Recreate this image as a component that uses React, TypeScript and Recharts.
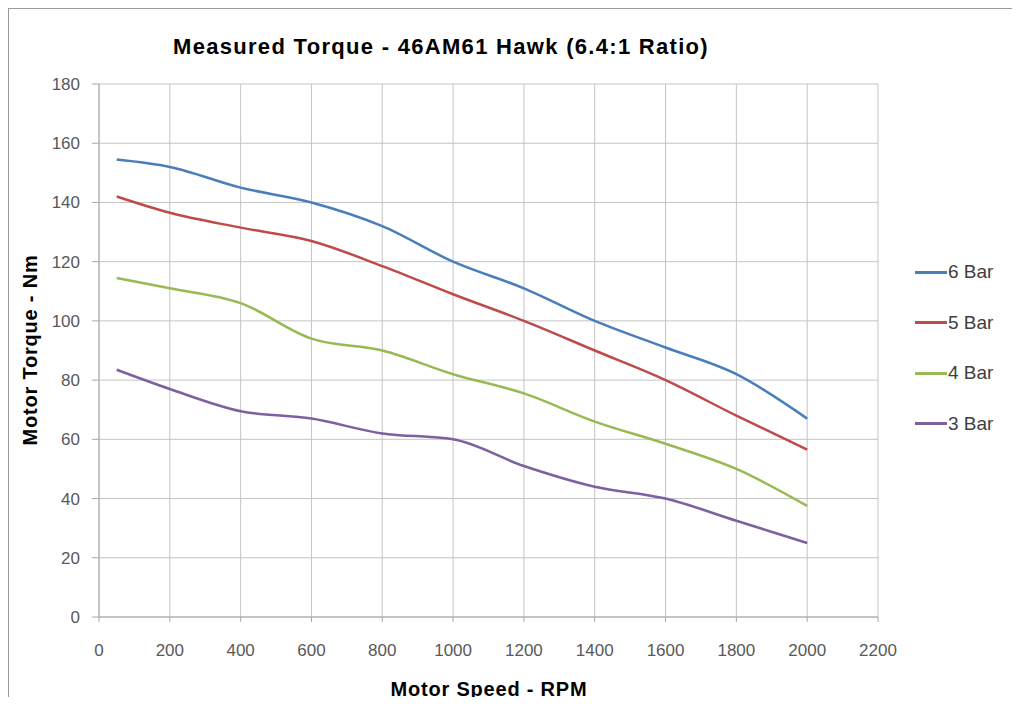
import React from 'react';
import { LineChart, Line, XAxis, YAxis, CartesianGrid } from 'recharts';

const speeds = [50, 200, 400, 600, 800, 1000, 1200, 1400, 1600, 1800, 2000];
const bar6 = [154.5, 152, 145, 140, 132, 120, 111, 100, 91, 82, 67];
const bar5 = [142, 136.5, 131.5, 127, 118.5, 109, 100, 90, 80, 68, 56.5];
const bar4 = [114.5, 111, 106, 94, 90, 82, 75.5, 66, 58.5, 50, 37.5];
const bar3 = [83.5, 77, 69.5, 67, 62, 60, 51, 44, 40, 32.5, 25];

const xTicks = [0, 200, 400, 600, 800, 1000, 1200, 1400, 1600, 1800, 2000, 2200];
const yTicks = [0, 20, 40, 60, 80, 100, 120, 140, 160, 180];

const series = [
  { key: 'bar6', name: '6 Bar', color: '#4A7EBB' },
  { key: 'bar5', name: '5 Bar', color: '#BE4B48' },
  { key: 'bar4', name: '4 Bar', color: '#98B954' },
  { key: 'bar3', name: '3 Bar', color: '#7D60A0' },
];

const data = speeds.map((s, i) => ({
  speed: s,
  bar6: bar6[i],
  bar5: bar5[i],
  bar4: bar4[i],
  bar3: bar3[i],
}));

const font = '"Liberation Sans", Arial, sans-serif';
const tickStyle = { fill: '#595959', fontSize: 17, fontFamily: font };

export default function App() {
  return (
    <div style={{ position: 'relative', width: 1020, height: 705, margin: -8, background: '#fff', fontFamily: font }}>
      <div style={{ position: 'absolute', left: 0, top: 0 }}>
        <LineChart width={1020} height={705} data={data} margin={{ top: 84, right: 142, bottom: 48, left: 39 }}>
          <CartesianGrid stroke="#c4c4c4" strokeWidth={1} horizontalValues={yTicks} verticalValues={xTicks} />
          <XAxis
            dataKey="speed"
            type="number"
            domain={[0, 2200]}
            ticks={xTicks}
            height={40}
            tickSize={5}
            tickMargin={22}
            stroke="#a8a8a8"
            tick={tickStyle}
            allowDataOverflow
          />
          <YAxis
            type="number"
            domain={[0, 180]}
            ticks={yTicks}
            width={60}
            tickSize={7}
            tickMargin={12}
            stroke="#a8a8a8"
            tick={tickStyle}
          />
          {series.map((s) => (
            <Line
              key={s.key}
              type="monotone"
              dataKey={s.key}
              name={s.name}
              stroke={s.color}
              strokeWidth={2.5}
              dot={false}
              isAnimationActive={false}
            />
          ))}
        </LineChart>
      </div>
      <div style={{ position: 'absolute', left: 8, top: 8, right: 0, height: 1, background: '#9a9a9a' }} />
      <div style={{ position: 'absolute', left: 8, top: 8, bottom: 0, width: 1, background: '#9a9a9a' }} />
      <div
        style={{
          position: 'absolute',
          left: 441,
          top: 47,
          transform: 'translate(-50%, -50%)',
          whiteSpace: 'nowrap',
          fontWeight: 'bold',
          fontSize: 22,
          letterSpacing: 1.3,
          color: '#000',
        }}
      >
        Measured Torque - 46AM61 Hawk (6.4:1 Ratio)
      </div>
      <div
        style={{
          position: 'absolute',
          left: 30,
          top: 350,
          transform: 'translate(-50%, -50%) rotate(-90deg)',
          whiteSpace: 'nowrap',
          fontWeight: 'bold',
          fontSize: 20,
          letterSpacing: 0.8,
          color: '#000',
        }}
      >
        Motor Torque - Nm
      </div>
      <div
        style={{
          position: 'absolute',
          left: 489,
          top: 689,
          transform: 'translate(-50%, -50%)',
          whiteSpace: 'nowrap',
          fontWeight: 'bold',
          fontSize: 20,
          letterSpacing: 0.8,
          color: '#000',
        }}
      >
        Motor Speed - RPM
      </div>
      {series.map((s, i) => (
        <div
          key={s.key}
          style={{ position: 'absolute', left: 915, top: 272 + i * 50.5, transform: 'translateY(-50%)', display: 'flex', alignItems: 'center' }}
        >
          <div style={{ width: 32, height: 3, background: s.color }} />
          <span style={{ fontSize: 19, color: '#404040', marginLeft: 1 }}>{s.name}</span>
        </div>
      ))}
    </div>
  );
}
